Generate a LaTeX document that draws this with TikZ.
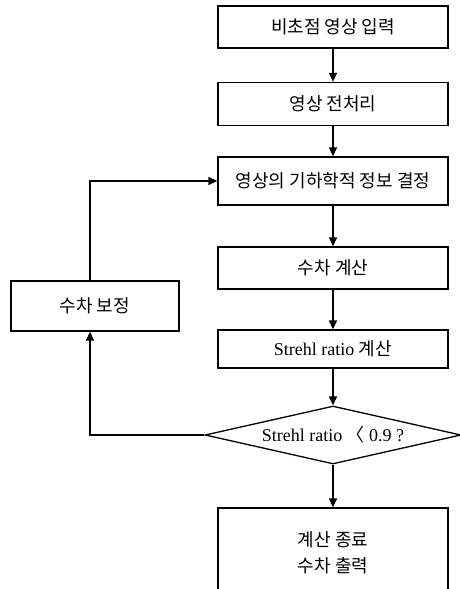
\documentclass[tikz,border=0pt]{standalone}
\usepackage{fontspec}
\setmainfont{Liberation Serif}
\newfontfamily\krfont{Noto Sans CJK KR}
\usetikzlibrary{shapes.geometric,arrows.meta}

\tikzset{
	stepbox/.style={draw, line width=1.3pt, minimum width=230pt, inner sep=0pt, align=center, font=\fontsize{18pt}{26pt}\selectfont},
	decbox/.style={draw, diamond, line width=1.3pt, aspect=4.4, minimum width=256pt, minimum height=58pt, inner sep=0pt, font=\fontsize{18pt}{20pt}\selectfont},
	flow/.style={line width=1.3pt, -{Triangle[length=9pt,width=8pt]}},
}

\begin{document}
\begin{tikzpicture}[x=1pt, y=-1pt]
		\def \xc {333}

		\clip (0,0) rectangle (460,589);

		% main column
		\node[stepbox, minimum height=42pt] (input) at (\xc, 27) {\krfont 비초점 영상 입력};
		\node[stepbox, minimum height=43pt] (prep) at (\xc, 104) {\krfont 영상 전처리};
		\node[stepbox, minimum height=48pt] (geom) at (\xc, 181) {\krfont 영상의 기하학적 정보 결정};
		\node[stepbox, minimum height=42pt] (aber) at (\xc, 268) {\krfont 수차 계산};
		\node[stepbox, minimum height=38pt] (strehl) at (\xc, 349) {Strehl ratio {\krfont 계산}};
		\node[decbox] (test) at (\xc, 435) {Strehl ratio {\krfont 〈} 0.9 ?};
		\node[stepbox, minimum height=90pt] (stop) at (\xc, 553) {\krfont 계산 종료\\\krfont 수차 출력};

		% correction box
		\node[stepbox, minimum width=168pt, minimum height=50pt] (corr) at (95, 306) {\krfont 수차 보정};

		\draw[flow] (input) -- (prep);
		\draw[flow] (prep) -- (geom);
		\draw[flow] (geom) -- (aber);
		\draw[flow] (aber) -- (strehl);
		\draw[flow] (strehl) -- (test);
		\draw[flow] (test) -- (stop);

		% feedback loop
		\draw[flow] (test.west) -| ([xshift=-5pt]corr.south);
		\draw[flow] ([xshift=-5pt]corr.north) |- (geom.west);
	\end{tikzpicture}
\end{document}
